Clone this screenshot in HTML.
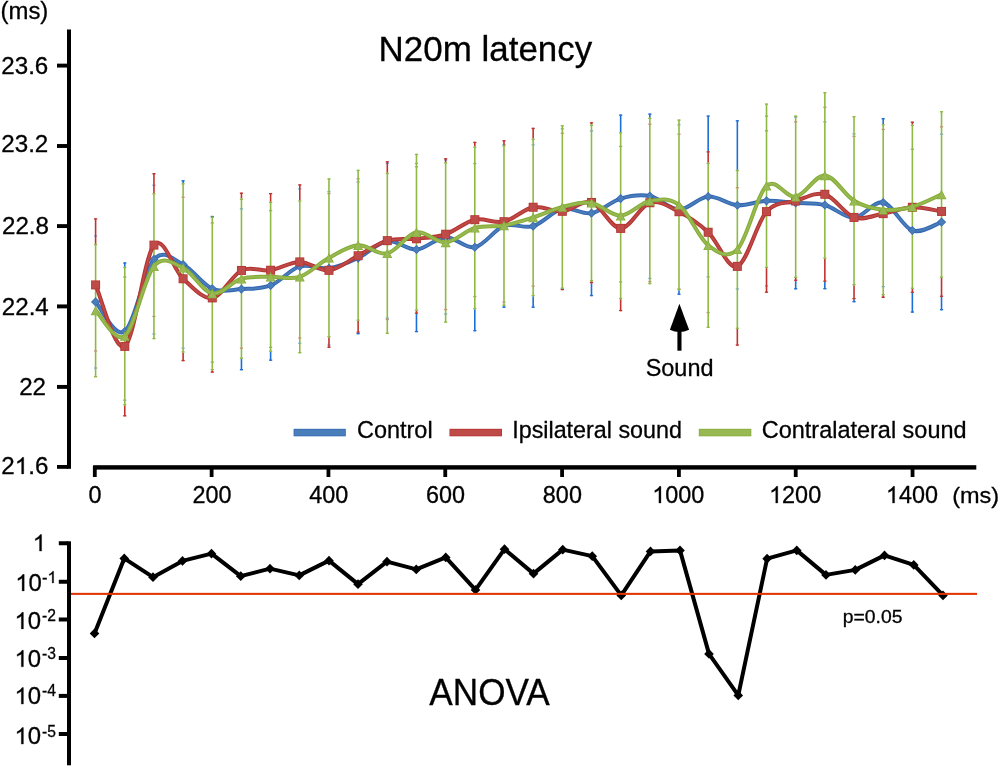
<!DOCTYPE html><html><head><meta charset="utf-8"><style>html,body{margin:0;padding:0;background:#fff}svg{display:block}</style></head><body><svg width="1000" height="768" viewBox="0 0 1000 768">
<rect width="1000" height="768" fill="#fff"/>
<path d="M94.00 235.95H97.20" stroke="#1c6fd4" stroke-width="1.30" fill="none" opacity="0.60"/>
<path d="M94.00 368.05H97.20" stroke="#1c6fd4" stroke-width="1.30" fill="none" opacity="0.60"/>
<path d="M94.00 218.95H97.20" stroke="#c0322f" stroke-width="1.30" fill="none" opacity="1.00"/>
<path d="M94.00 350.95H97.20" stroke="#c0322f" stroke-width="1.30" fill="none" opacity="0.60"/>
<path d="M95.60 218.30V243.90" stroke="#c0322f" stroke-width="1.60" fill="none"/>
<path d="M94.00 244.55H97.20" stroke="#8fb944" stroke-width="1.30" fill="none" opacity="1.00"/>
<path d="M94.00 376.65H97.20" stroke="#8fb944" stroke-width="1.30" fill="none" opacity="1.00"/>
<path d="M95.60 243.90V377.30" stroke="#8fb944" stroke-width="1.60" fill="none"/>
<path d="M123.17 263.05H126.37" stroke="#1c6fd4" stroke-width="1.30" fill="none" opacity="1.00"/>
<path d="M123.17 400.15H126.37" stroke="#1c6fd4" stroke-width="1.30" fill="none" opacity="0.60"/>
<path d="M124.77 262.40V266.80" stroke="#1c6fd4" stroke-width="1.60" fill="none"/>
<path d="M123.17 277.05H126.37" stroke="#c0322f" stroke-width="1.30" fill="none" opacity="0.60"/>
<path d="M123.17 415.75H126.37" stroke="#c0322f" stroke-width="1.30" fill="none" opacity="1.00"/>
<path d="M124.77 405.40V416.40" stroke="#c0322f" stroke-width="1.60" fill="none"/>
<path d="M123.17 267.45H126.37" stroke="#8fb944" stroke-width="1.30" fill="none" opacity="1.00"/>
<path d="M123.17 404.75H126.37" stroke="#8fb944" stroke-width="1.30" fill="none" opacity="1.00"/>
<path d="M124.77 266.80V405.40" stroke="#8fb944" stroke-width="1.60" fill="none"/>
<path d="M152.34 185.25H155.54" stroke="#1c6fd4" stroke-width="1.30" fill="none" opacity="0.60"/>
<path d="M152.34 333.95H155.54" stroke="#1c6fd4" stroke-width="1.30" fill="none" opacity="0.60"/>
<path d="M152.34 173.75H155.54" stroke="#c0322f" stroke-width="1.30" fill="none" opacity="1.00"/>
<path d="M152.34 316.45H155.54" stroke="#c0322f" stroke-width="1.30" fill="none" opacity="0.60"/>
<path d="M153.94 173.10V193.20" stroke="#c0322f" stroke-width="1.60" fill="none"/>
<path d="M152.34 193.85H155.54" stroke="#8fb944" stroke-width="1.30" fill="none" opacity="1.00"/>
<path d="M152.34 338.55H155.54" stroke="#8fb944" stroke-width="1.30" fill="none" opacity="1.00"/>
<path d="M153.94 193.20V339.20" stroke="#8fb944" stroke-width="1.60" fill="none"/>
<path d="M181.51 180.85H184.71" stroke="#1c6fd4" stroke-width="1.30" fill="none" opacity="1.00"/>
<path d="M181.51 348.15H184.71" stroke="#1c6fd4" stroke-width="1.30" fill="none" opacity="0.60"/>
<path d="M183.11 180.20V183.20" stroke="#1c6fd4" stroke-width="1.60" fill="none"/>
<path d="M181.51 197.25H184.71" stroke="#c0322f" stroke-width="1.30" fill="none" opacity="0.60"/>
<path d="M181.51 360.55H184.71" stroke="#c0322f" stroke-width="1.30" fill="none" opacity="1.00"/>
<path d="M183.11 352.60V361.20" stroke="#c0322f" stroke-width="1.60" fill="none"/>
<path d="M181.51 183.85H184.71" stroke="#8fb944" stroke-width="1.30" fill="none" opacity="1.00"/>
<path d="M181.51 351.95H184.71" stroke="#8fb944" stroke-width="1.30" fill="none" opacity="1.00"/>
<path d="M183.11 183.20V352.60" stroke="#8fb944" stroke-width="1.60" fill="none"/>
<path d="M210.68 216.55H213.88" stroke="#1c6fd4" stroke-width="1.30" fill="none" opacity="1.00"/>
<path d="M210.68 362.15H213.88" stroke="#1c6fd4" stroke-width="1.30" fill="none" opacity="0.60"/>
<path d="M212.28 215.90V216.70" stroke="#1c6fd4" stroke-width="1.60" fill="none"/>
<path d="M210.68 222.95H213.88" stroke="#c0322f" stroke-width="1.30" fill="none" opacity="0.60"/>
<path d="M210.68 372.05H213.88" stroke="#c0322f" stroke-width="1.30" fill="none" opacity="1.00"/>
<path d="M212.28 370.30V372.70" stroke="#c0322f" stroke-width="1.60" fill="none"/>
<path d="M210.68 217.35H213.88" stroke="#8fb944" stroke-width="1.30" fill="none" opacity="1.00"/>
<path d="M210.68 369.65H213.88" stroke="#8fb944" stroke-width="1.30" fill="none" opacity="1.00"/>
<path d="M212.28 216.70V370.30" stroke="#8fb944" stroke-width="1.60" fill="none"/>
<path d="M239.85 208.85H243.05" stroke="#1c6fd4" stroke-width="1.30" fill="none" opacity="0.60"/>
<path d="M239.85 369.65H243.05" stroke="#1c6fd4" stroke-width="1.30" fill="none" opacity="1.00"/>
<path d="M241.45 358.80V370.30" stroke="#1c6fd4" stroke-width="1.60" fill="none"/>
<path d="M239.85 193.25H243.05" stroke="#c0322f" stroke-width="1.30" fill="none" opacity="1.00"/>
<path d="M239.85 348.15H243.05" stroke="#c0322f" stroke-width="1.30" fill="none" opacity="0.60"/>
<path d="M241.45 192.60V198.60" stroke="#c0322f" stroke-width="1.60" fill="none"/>
<path d="M239.85 199.25H243.05" stroke="#8fb944" stroke-width="1.30" fill="none" opacity="1.00"/>
<path d="M239.85 358.15H243.05" stroke="#8fb944" stroke-width="1.30" fill="none" opacity="1.00"/>
<path d="M241.45 198.60V358.80" stroke="#8fb944" stroke-width="1.60" fill="none"/>
<path d="M269.02 210.55H272.22" stroke="#1c6fd4" stroke-width="1.30" fill="none" opacity="0.60"/>
<path d="M269.02 360.15H272.22" stroke="#1c6fd4" stroke-width="1.30" fill="none" opacity="1.00"/>
<path d="M270.62 351.80V360.80" stroke="#1c6fd4" stroke-width="1.60" fill="none"/>
<path d="M269.02 193.65H272.22" stroke="#c0322f" stroke-width="1.30" fill="none" opacity="1.00"/>
<path d="M269.02 347.35H272.22" stroke="#c0322f" stroke-width="1.30" fill="none" opacity="0.60"/>
<path d="M270.62 193.00V201.80" stroke="#c0322f" stroke-width="1.60" fill="none"/>
<path d="M269.02 202.45H272.22" stroke="#8fb944" stroke-width="1.30" fill="none" opacity="1.00"/>
<path d="M269.02 351.15H272.22" stroke="#8fb944" stroke-width="1.30" fill="none" opacity="1.00"/>
<path d="M270.62 201.80V351.80" stroke="#8fb944" stroke-width="1.60" fill="none"/>
<path d="M298.19 188.95H301.39" stroke="#1c6fd4" stroke-width="1.30" fill="none" opacity="0.60"/>
<path d="M298.19 343.25H301.39" stroke="#1c6fd4" stroke-width="1.30" fill="none" opacity="0.60"/>
<path d="M298.19 184.95H301.39" stroke="#c0322f" stroke-width="1.30" fill="none" opacity="1.00"/>
<path d="M298.19 338.05H301.39" stroke="#c0322f" stroke-width="1.30" fill="none" opacity="0.60"/>
<path d="M299.79 184.30V200.30" stroke="#c0322f" stroke-width="1.60" fill="none"/>
<path d="M298.19 200.95H301.39" stroke="#8fb944" stroke-width="1.30" fill="none" opacity="1.00"/>
<path d="M298.19 352.65H301.39" stroke="#8fb944" stroke-width="1.30" fill="none" opacity="1.00"/>
<path d="M299.79 200.30V353.30" stroke="#8fb944" stroke-width="1.60" fill="none"/>
<path d="M327.36 191.55H330.56" stroke="#1c6fd4" stroke-width="1.30" fill="none" opacity="0.60"/>
<path d="M327.36 345.05H330.56" stroke="#1c6fd4" stroke-width="1.30" fill="none" opacity="0.60"/>
<path d="M327.36 193.55H330.56" stroke="#c0322f" stroke-width="1.30" fill="none" opacity="0.60"/>
<path d="M327.36 347.25H330.56" stroke="#c0322f" stroke-width="1.30" fill="none" opacity="1.00"/>
<path d="M328.96 337.30V347.90" stroke="#c0322f" stroke-width="1.60" fill="none"/>
<path d="M327.36 178.95H330.56" stroke="#8fb944" stroke-width="1.30" fill="none" opacity="1.00"/>
<path d="M327.36 336.65H330.56" stroke="#8fb944" stroke-width="1.30" fill="none" opacity="1.00"/>
<path d="M328.96 178.30V337.30" stroke="#8fb944" stroke-width="1.60" fill="none"/>
<path d="M356.53 181.95H359.73" stroke="#1c6fd4" stroke-width="1.30" fill="none" opacity="0.60"/>
<path d="M356.53 333.65H359.73" stroke="#1c6fd4" stroke-width="1.30" fill="none" opacity="1.00"/>
<path d="M358.13 332.80V334.30" stroke="#1c6fd4" stroke-width="1.60" fill="none"/>
<path d="M356.53 178.95H359.73" stroke="#c0322f" stroke-width="1.30" fill="none" opacity="0.60"/>
<path d="M356.53 332.15H359.73" stroke="#c0322f" stroke-width="1.30" fill="none" opacity="1.00"/>
<path d="M358.13 320.80V332.80" stroke="#c0322f" stroke-width="1.60" fill="none"/>
<path d="M356.53 170.45H359.73" stroke="#8fb944" stroke-width="1.30" fill="none" opacity="1.00"/>
<path d="M356.53 320.15H359.73" stroke="#8fb944" stroke-width="1.30" fill="none" opacity="1.00"/>
<path d="M358.13 169.80V320.80" stroke="#8fb944" stroke-width="1.60" fill="none"/>
<path d="M385.70 163.45H388.90" stroke="#1c6fd4" stroke-width="1.30" fill="none" opacity="0.60"/>
<path d="M385.70 318.15H388.90" stroke="#1c6fd4" stroke-width="1.30" fill="none" opacity="0.60"/>
<path d="M385.70 161.85H388.90" stroke="#c0322f" stroke-width="1.30" fill="none" opacity="1.00"/>
<path d="M385.70 319.55H388.90" stroke="#c0322f" stroke-width="1.30" fill="none" opacity="0.60"/>
<path d="M387.30 161.20V172.80" stroke="#c0322f" stroke-width="1.60" fill="none"/>
<path d="M385.70 173.45H388.90" stroke="#8fb944" stroke-width="1.30" fill="none" opacity="1.00"/>
<path d="M385.70 333.25H388.90" stroke="#8fb944" stroke-width="1.30" fill="none" opacity="1.00"/>
<path d="M387.30 172.80V333.90" stroke="#8fb944" stroke-width="1.60" fill="none"/>
<path d="M414.87 166.85H418.07" stroke="#1c6fd4" stroke-width="1.30" fill="none" opacity="0.60"/>
<path d="M414.87 331.55H418.07" stroke="#1c6fd4" stroke-width="1.30" fill="none" opacity="1.00"/>
<path d="M416.47 313.80V332.20" stroke="#1c6fd4" stroke-width="1.60" fill="none"/>
<path d="M414.87 163.45H418.07" stroke="#c0322f" stroke-width="1.30" fill="none" opacity="0.60"/>
<path d="M414.87 313.15H418.07" stroke="#c0322f" stroke-width="1.30" fill="none" opacity="1.00"/>
<path d="M416.47 310.80V313.80" stroke="#c0322f" stroke-width="1.60" fill="none"/>
<path d="M414.87 154.45H418.07" stroke="#8fb944" stroke-width="1.30" fill="none" opacity="1.00"/>
<path d="M414.87 310.15H418.07" stroke="#8fb944" stroke-width="1.30" fill="none" opacity="1.00"/>
<path d="M416.47 153.80V310.80" stroke="#8fb944" stroke-width="1.60" fill="none"/>
<path d="M444.04 160.05H447.24" stroke="#1c6fd4" stroke-width="1.30" fill="none" opacity="0.60"/>
<path d="M444.04 313.95H447.24" stroke="#1c6fd4" stroke-width="1.30" fill="none" opacity="0.60"/>
<path d="M444.04 158.85H447.24" stroke="#c0322f" stroke-width="1.30" fill="none" opacity="1.00"/>
<path d="M444.04 309.55H447.24" stroke="#c0322f" stroke-width="1.30" fill="none" opacity="0.60"/>
<path d="M445.64 158.20V162.20" stroke="#c0322f" stroke-width="1.60" fill="none"/>
<path d="M444.04 162.85H447.24" stroke="#8fb944" stroke-width="1.30" fill="none" opacity="1.00"/>
<path d="M444.04 322.05H447.24" stroke="#8fb944" stroke-width="1.30" fill="none" opacity="1.00"/>
<path d="M445.64 162.20V322.70" stroke="#8fb944" stroke-width="1.60" fill="none"/>
<path d="M473.21 163.55H476.41" stroke="#1c6fd4" stroke-width="1.30" fill="none" opacity="0.60"/>
<path d="M473.21 330.65H476.41" stroke="#1c6fd4" stroke-width="1.30" fill="none" opacity="1.00"/>
<path d="M474.81 309.20V331.30" stroke="#1c6fd4" stroke-width="1.60" fill="none"/>
<path d="M473.21 142.45H476.41" stroke="#c0322f" stroke-width="1.30" fill="none" opacity="1.00"/>
<path d="M473.21 296.55H476.41" stroke="#c0322f" stroke-width="1.30" fill="none" opacity="0.60"/>
<path d="M474.81 141.80V146.60" stroke="#c0322f" stroke-width="1.60" fill="none"/>
<path d="M473.21 147.25H476.41" stroke="#8fb944" stroke-width="1.30" fill="none" opacity="1.00"/>
<path d="M473.21 308.55H476.41" stroke="#8fb944" stroke-width="1.30" fill="none" opacity="1.00"/>
<path d="M474.81 146.60V309.20" stroke="#8fb944" stroke-width="1.60" fill="none"/>
<path d="M502.38 144.85H505.58" stroke="#1c6fd4" stroke-width="1.30" fill="none" opacity="0.60"/>
<path d="M502.38 307.15H505.58" stroke="#1c6fd4" stroke-width="1.30" fill="none" opacity="1.00"/>
<path d="M503.98 305.80V307.80" stroke="#1c6fd4" stroke-width="1.60" fill="none"/>
<path d="M502.38 140.85H505.58" stroke="#c0322f" stroke-width="1.30" fill="none" opacity="1.00"/>
<path d="M502.38 302.15H505.58" stroke="#c0322f" stroke-width="1.30" fill="none" opacity="0.60"/>
<path d="M503.98 140.20V145.20" stroke="#c0322f" stroke-width="1.60" fill="none"/>
<path d="M502.38 145.85H505.58" stroke="#8fb944" stroke-width="1.30" fill="none" opacity="1.00"/>
<path d="M502.38 305.15H505.58" stroke="#8fb944" stroke-width="1.30" fill="none" opacity="1.00"/>
<path d="M503.98 145.20V305.80" stroke="#8fb944" stroke-width="1.60" fill="none"/>
<path d="M531.55 144.85H534.75" stroke="#1c6fd4" stroke-width="1.30" fill="none" opacity="0.60"/>
<path d="M531.55 307.15H534.75" stroke="#1c6fd4" stroke-width="1.30" fill="none" opacity="1.00"/>
<path d="M533.15 296.20V307.80" stroke="#1c6fd4" stroke-width="1.60" fill="none"/>
<path d="M531.55 128.45H534.75" stroke="#c0322f" stroke-width="1.30" fill="none" opacity="1.00"/>
<path d="M531.55 286.15H534.75" stroke="#c0322f" stroke-width="1.30" fill="none" opacity="0.60"/>
<path d="M533.15 127.80V138.80" stroke="#c0322f" stroke-width="1.60" fill="none"/>
<path d="M531.55 139.45H534.75" stroke="#8fb944" stroke-width="1.30" fill="none" opacity="1.00"/>
<path d="M531.55 295.55H534.75" stroke="#8fb944" stroke-width="1.30" fill="none" opacity="1.00"/>
<path d="M533.15 138.80V296.20" stroke="#8fb944" stroke-width="1.60" fill="none"/>
<path d="M560.72 128.85H563.92" stroke="#1c6fd4" stroke-width="1.30" fill="none" opacity="0.60"/>
<path d="M560.72 288.85H563.92" stroke="#1c6fd4" stroke-width="1.30" fill="none" opacity="0.60"/>
<path d="M560.72 133.25H563.92" stroke="#c0322f" stroke-width="1.30" fill="none" opacity="0.60"/>
<path d="M560.72 289.55H563.92" stroke="#c0322f" stroke-width="1.30" fill="none" opacity="1.00"/>
<path d="M562.32 288.80V290.20" stroke="#c0322f" stroke-width="1.60" fill="none"/>
<path d="M560.72 125.85H563.92" stroke="#8fb944" stroke-width="1.30" fill="none" opacity="1.00"/>
<path d="M560.72 288.15H563.92" stroke="#8fb944" stroke-width="1.30" fill="none" opacity="1.00"/>
<path d="M562.32 125.20V288.80" stroke="#8fb944" stroke-width="1.60" fill="none"/>
<path d="M589.89 130.85H593.09" stroke="#1c6fd4" stroke-width="1.30" fill="none" opacity="0.60"/>
<path d="M589.89 295.55H593.09" stroke="#1c6fd4" stroke-width="1.30" fill="none" opacity="1.00"/>
<path d="M591.49 283.20V296.20" stroke="#1c6fd4" stroke-width="1.60" fill="none"/>
<path d="M589.89 122.85H593.09" stroke="#c0322f" stroke-width="1.30" fill="none" opacity="1.00"/>
<path d="M589.89 282.55H593.09" stroke="#c0322f" stroke-width="1.30" fill="none" opacity="1.00"/>
<path d="M591.49 122.20V124.60" stroke="#c0322f" stroke-width="1.60" fill="none"/>
<path d="M591.49 281.20V283.20" stroke="#c0322f" stroke-width="1.60" fill="none"/>
<path d="M589.89 125.25H593.09" stroke="#8fb944" stroke-width="1.30" fill="none" opacity="1.00"/>
<path d="M589.89 280.55H593.09" stroke="#8fb944" stroke-width="1.30" fill="none" opacity="1.00"/>
<path d="M591.49 124.60V281.20" stroke="#8fb944" stroke-width="1.60" fill="none"/>
<path d="M619.06 115.15H622.26" stroke="#1c6fd4" stroke-width="1.30" fill="none" opacity="1.00"/>
<path d="M619.06 281.95H622.26" stroke="#1c6fd4" stroke-width="1.30" fill="none" opacity="0.60"/>
<path d="M620.66 114.50V132.20" stroke="#1c6fd4" stroke-width="1.60" fill="none"/>
<path d="M619.06 146.45H622.26" stroke="#c0322f" stroke-width="1.30" fill="none" opacity="0.60"/>
<path d="M619.06 310.55H622.26" stroke="#c0322f" stroke-width="1.30" fill="none" opacity="1.00"/>
<path d="M620.66 299.20V311.20" stroke="#c0322f" stroke-width="1.60" fill="none"/>
<path d="M619.06 132.85H622.26" stroke="#8fb944" stroke-width="1.30" fill="none" opacity="1.00"/>
<path d="M619.06 298.55H622.26" stroke="#8fb944" stroke-width="1.30" fill="none" opacity="1.00"/>
<path d="M620.66 132.20V299.20" stroke="#8fb944" stroke-width="1.60" fill="none"/>
<path d="M648.23 114.15H651.43" stroke="#1c6fd4" stroke-width="1.30" fill="none" opacity="1.00"/>
<path d="M648.23 278.45H651.43" stroke="#1c6fd4" stroke-width="1.30" fill="none" opacity="0.60"/>
<path d="M649.83 113.50V117.70" stroke="#1c6fd4" stroke-width="1.60" fill="none"/>
<path d="M648.23 124.25H651.43" stroke="#c0322f" stroke-width="1.30" fill="none" opacity="0.60"/>
<path d="M648.23 281.55H651.43" stroke="#c0322f" stroke-width="1.30" fill="none" opacity="0.60"/>
<path d="M648.23 118.35H651.43" stroke="#8fb944" stroke-width="1.30" fill="none" opacity="1.00"/>
<path d="M648.23 283.55H651.43" stroke="#8fb944" stroke-width="1.30" fill="none" opacity="1.00"/>
<path d="M649.83 117.70V284.20" stroke="#8fb944" stroke-width="1.60" fill="none"/>
<path d="M677.40 124.85H680.60" stroke="#1c6fd4" stroke-width="1.30" fill="none" opacity="0.60"/>
<path d="M677.40 294.15H680.60" stroke="#1c6fd4" stroke-width="1.30" fill="none" opacity="1.00"/>
<path d="M679.00 290.20V294.80" stroke="#1c6fd4" stroke-width="1.60" fill="none"/>
<path d="M677.40 134.25H680.60" stroke="#c0322f" stroke-width="1.30" fill="none" opacity="0.60"/>
<path d="M677.40 288.95H680.60" stroke="#c0322f" stroke-width="1.30" fill="none" opacity="0.60"/>
<path d="M677.40 120.15H680.60" stroke="#8fb944" stroke-width="1.30" fill="none" opacity="1.00"/>
<path d="M677.40 289.55H680.60" stroke="#8fb944" stroke-width="1.30" fill="none" opacity="1.00"/>
<path d="M679.00 119.50V290.20" stroke="#8fb944" stroke-width="1.60" fill="none"/>
<path d="M706.57 116.15H709.77" stroke="#1c6fd4" stroke-width="1.30" fill="none" opacity="1.00"/>
<path d="M706.57 276.85H709.77" stroke="#1c6fd4" stroke-width="1.30" fill="none" opacity="0.60"/>
<path d="M708.17 115.50V151.20" stroke="#1c6fd4" stroke-width="1.60" fill="none"/>
<path d="M706.57 151.85H709.77" stroke="#c0322f" stroke-width="1.30" fill="none" opacity="1.00"/>
<path d="M706.57 312.55H709.77" stroke="#c0322f" stroke-width="1.30" fill="none" opacity="0.60"/>
<path d="M708.17 151.20V162.70" stroke="#c0322f" stroke-width="1.60" fill="none"/>
<path d="M706.57 163.35H709.77" stroke="#8fb944" stroke-width="1.30" fill="none" opacity="1.00"/>
<path d="M706.57 327.25H709.77" stroke="#8fb944" stroke-width="1.30" fill="none" opacity="1.00"/>
<path d="M708.17 162.70V327.90" stroke="#8fb944" stroke-width="1.60" fill="none"/>
<path d="M735.74 120.85H738.94" stroke="#1c6fd4" stroke-width="1.30" fill="none" opacity="1.00"/>
<path d="M735.74 288.95H738.94" stroke="#1c6fd4" stroke-width="1.30" fill="none" opacity="0.60"/>
<path d="M737.34 120.20V169.90" stroke="#1c6fd4" stroke-width="1.60" fill="none"/>
<path d="M735.74 187.65H738.94" stroke="#c0322f" stroke-width="1.30" fill="none" opacity="0.60"/>
<path d="M735.74 345.05H738.94" stroke="#c0322f" stroke-width="1.30" fill="none" opacity="1.00"/>
<path d="M737.34 328.90V345.70" stroke="#c0322f" stroke-width="1.60" fill="none"/>
<path d="M735.74 170.55H738.94" stroke="#8fb944" stroke-width="1.30" fill="none" opacity="1.00"/>
<path d="M735.74 328.25H738.94" stroke="#8fb944" stroke-width="1.30" fill="none" opacity="1.00"/>
<path d="M737.34 169.90V328.90" stroke="#8fb944" stroke-width="1.60" fill="none"/>
<path d="M764.91 116.15H768.11" stroke="#1c6fd4" stroke-width="1.30" fill="none" opacity="0.60"/>
<path d="M764.91 285.95H768.11" stroke="#1c6fd4" stroke-width="1.30" fill="none" opacity="0.60"/>
<path d="M764.91 130.85H768.11" stroke="#c0322f" stroke-width="1.30" fill="none" opacity="0.60"/>
<path d="M764.91 292.15H768.11" stroke="#c0322f" stroke-width="1.30" fill="none" opacity="1.00"/>
<path d="M766.51 268.10V292.80" stroke="#c0322f" stroke-width="1.60" fill="none"/>
<path d="M764.91 104.15H768.11" stroke="#8fb944" stroke-width="1.30" fill="none" opacity="1.00"/>
<path d="M764.91 267.45H768.11" stroke="#8fb944" stroke-width="1.30" fill="none" opacity="1.00"/>
<path d="M766.51 103.50V268.10" stroke="#8fb944" stroke-width="1.60" fill="none"/>
<path d="M794.08 117.15H797.28" stroke="#1c6fd4" stroke-width="1.30" fill="none" opacity="0.60"/>
<path d="M794.08 288.75H797.28" stroke="#1c6fd4" stroke-width="1.30" fill="none" opacity="1.00"/>
<path d="M795.68 280.90V289.40" stroke="#1c6fd4" stroke-width="1.60" fill="none"/>
<path d="M794.08 121.85H797.28" stroke="#c0322f" stroke-width="1.30" fill="none" opacity="0.60"/>
<path d="M794.08 280.25H797.28" stroke="#c0322f" stroke-width="1.30" fill="none" opacity="1.00"/>
<path d="M795.68 278.00V280.90" stroke="#c0322f" stroke-width="1.60" fill="none"/>
<path d="M794.08 116.15H797.28" stroke="#8fb944" stroke-width="1.30" fill="none" opacity="1.00"/>
<path d="M794.08 277.35H797.28" stroke="#8fb944" stroke-width="1.30" fill="none" opacity="1.00"/>
<path d="M795.68 115.50V278.00" stroke="#8fb944" stroke-width="1.60" fill="none"/>
<path d="M823.25 121.85H826.45" stroke="#1c6fd4" stroke-width="1.30" fill="none" opacity="0.60"/>
<path d="M823.25 288.65H826.45" stroke="#1c6fd4" stroke-width="1.30" fill="none" opacity="1.00"/>
<path d="M824.85 281.80V289.30" stroke="#1c6fd4" stroke-width="1.60" fill="none"/>
<path d="M823.25 107.35H826.45" stroke="#c0322f" stroke-width="1.30" fill="none" opacity="0.60"/>
<path d="M823.25 281.15H826.45" stroke="#c0322f" stroke-width="1.30" fill="none" opacity="1.00"/>
<path d="M824.85 258.80V281.80" stroke="#c0322f" stroke-width="1.60" fill="none"/>
<path d="M823.25 92.75H826.45" stroke="#8fb944" stroke-width="1.30" fill="none" opacity="1.00"/>
<path d="M823.25 258.15H826.45" stroke="#8fb944" stroke-width="1.30" fill="none" opacity="1.00"/>
<path d="M824.85 92.10V258.80" stroke="#8fb944" stroke-width="1.60" fill="none"/>
<path d="M852.42 133.85H855.62" stroke="#1c6fd4" stroke-width="1.30" fill="none" opacity="0.60"/>
<path d="M852.42 301.65H855.62" stroke="#1c6fd4" stroke-width="1.30" fill="none" opacity="1.00"/>
<path d="M854.02 299.30V302.30" stroke="#1c6fd4" stroke-width="1.60" fill="none"/>
<path d="M852.42 136.45H855.62" stroke="#c0322f" stroke-width="1.30" fill="none" opacity="0.60"/>
<path d="M852.42 298.65H855.62" stroke="#c0322f" stroke-width="1.30" fill="none" opacity="1.00"/>
<path d="M854.02 285.30V299.30" stroke="#c0322f" stroke-width="1.60" fill="none"/>
<path d="M852.42 116.75H855.62" stroke="#8fb944" stroke-width="1.30" fill="none" opacity="1.00"/>
<path d="M852.42 284.65H855.62" stroke="#8fb944" stroke-width="1.30" fill="none" opacity="1.00"/>
<path d="M854.02 116.10V285.30" stroke="#8fb944" stroke-width="1.60" fill="none"/>
<path d="M881.59 118.75H884.79" stroke="#1c6fd4" stroke-width="1.30" fill="none" opacity="1.00"/>
<path d="M881.59 286.65H884.79" stroke="#1c6fd4" stroke-width="1.30" fill="none" opacity="0.60"/>
<path d="M883.19 118.10V124.20" stroke="#1c6fd4" stroke-width="1.60" fill="none"/>
<path d="M881.59 129.45H884.79" stroke="#c0322f" stroke-width="1.30" fill="none" opacity="0.60"/>
<path d="M881.59 297.25H884.79" stroke="#c0322f" stroke-width="1.30" fill="none" opacity="1.00"/>
<path d="M883.19 295.30V297.90" stroke="#c0322f" stroke-width="1.60" fill="none"/>
<path d="M881.59 124.85H884.79" stroke="#8fb944" stroke-width="1.30" fill="none" opacity="1.00"/>
<path d="M881.59 294.65H884.79" stroke="#8fb944" stroke-width="1.30" fill="none" opacity="1.00"/>
<path d="M883.19 124.20V295.30" stroke="#8fb944" stroke-width="1.60" fill="none"/>
<path d="M910.76 149.25H913.96" stroke="#1c6fd4" stroke-width="1.30" fill="none" opacity="0.60"/>
<path d="M910.76 312.05H913.96" stroke="#1c6fd4" stroke-width="1.30" fill="none" opacity="1.00"/>
<path d="M912.36 292.90V312.70" stroke="#1c6fd4" stroke-width="1.60" fill="none"/>
<path d="M910.76 122.25H913.96" stroke="#c0322f" stroke-width="1.30" fill="none" opacity="1.00"/>
<path d="M910.76 292.25H913.96" stroke="#c0322f" stroke-width="1.30" fill="none" opacity="1.00"/>
<path d="M912.36 121.60V124.60" stroke="#c0322f" stroke-width="1.60" fill="none"/>
<path d="M912.36 288.90V292.90" stroke="#c0322f" stroke-width="1.60" fill="none"/>
<path d="M910.76 125.25H913.96" stroke="#8fb944" stroke-width="1.30" fill="none" opacity="1.00"/>
<path d="M910.76 288.25H913.96" stroke="#8fb944" stroke-width="1.30" fill="none" opacity="1.00"/>
<path d="M912.36 124.60V288.90" stroke="#8fb944" stroke-width="1.60" fill="none"/>
<path d="M939.93 134.25H943.13" stroke="#1c6fd4" stroke-width="1.30" fill="none" opacity="0.60"/>
<path d="M939.93 309.65H943.13" stroke="#1c6fd4" stroke-width="1.30" fill="none" opacity="1.00"/>
<path d="M941.53 296.90V310.30" stroke="#1c6fd4" stroke-width="1.60" fill="none"/>
<path d="M939.93 126.85H943.13" stroke="#c0322f" stroke-width="1.30" fill="none" opacity="0.60"/>
<path d="M939.93 296.25H943.13" stroke="#c0322f" stroke-width="1.30" fill="none" opacity="1.00"/>
<path d="M941.53 277.80V296.90" stroke="#c0322f" stroke-width="1.60" fill="none"/>
<path d="M939.93 111.75H943.13" stroke="#8fb944" stroke-width="1.30" fill="none" opacity="1.00"/>
<path d="M939.93 277.15H943.13" stroke="#8fb944" stroke-width="1.30" fill="none" opacity="1.00"/>
<path d="M941.53 111.10V277.80" stroke="#8fb944" stroke-width="1.60" fill="none"/>
<path d="M95.60 301.95 C100.46 306.88 115.05 338.59 124.77 331.50 C134.49 324.41 144.22 270.56 153.94 259.40 C163.66 248.24 173.39 259.65 183.11 264.55 C192.83 269.45 202.56 284.74 212.28 288.83 C222.00 292.91 231.73 289.63 241.45 289.07 C251.17 288.52 260.90 289.25 270.62 285.48 C280.34 281.70 290.07 269.26 299.79 266.40 C309.51 263.54 319.24 269.69 328.96 268.30 C338.68 266.91 348.41 262.60 358.13 258.05 C367.85 253.50 377.58 242.43 387.30 241.00 C397.02 239.57 406.75 250.14 416.47 249.50 C426.19 248.86 435.92 237.53 445.64 237.15 C455.36 236.78 465.09 249.12 474.81 247.25 C484.53 245.38 494.26 229.47 503.98 225.95 C513.70 222.43 523.43 229.00 533.15 226.15 C542.87 223.30 552.60 211.01 562.32 208.85 C572.04 206.69 581.77 214.91 591.49 213.20 C601.21 211.49 610.94 201.43 620.66 198.57 C630.38 195.72 640.11 194.23 649.83 196.05 C659.55 197.87 669.28 209.42 679.00 209.50 C688.72 209.58 698.45 197.26 708.17 196.55 C717.89 195.84 727.62 204.54 737.34 205.25 C747.06 205.96 756.79 201.23 766.51 200.82 C776.23 200.42 785.96 202.13 795.68 202.82 C805.40 203.52 815.13 202.49 824.85 204.97 C834.57 207.46 844.30 218.16 854.02 217.75 C863.74 217.34 873.47 200.37 883.19 202.50 C892.91 204.63 902.64 227.25 912.36 230.52 C922.08 233.80 936.67 223.53 941.53 222.12" fill="none" stroke="#3468b3" stroke-width="4.00" stroke-linecap="round" stroke-linejoin="round"/>
<path d="M95.60 301.95 C100.46 306.88 115.05 338.59 124.77 331.50 C134.49 324.41 144.22 270.56 153.94 259.40 C163.66 248.24 173.39 259.65 183.11 264.55 C192.83 269.45 202.56 284.74 212.28 288.83 C222.00 292.91 231.73 289.63 241.45 289.07 C251.17 288.52 260.90 289.25 270.62 285.48 C280.34 281.70 290.07 269.26 299.79 266.40 C309.51 263.54 319.24 269.69 328.96 268.30 C338.68 266.91 348.41 262.60 358.13 258.05 C367.85 253.50 377.58 242.43 387.30 241.00 C397.02 239.57 406.75 250.14 416.47 249.50 C426.19 248.86 435.92 237.53 445.64 237.15 C455.36 236.78 465.09 249.12 474.81 247.25 C484.53 245.38 494.26 229.47 503.98 225.95 C513.70 222.43 523.43 229.00 533.15 226.15 C542.87 223.30 552.60 211.01 562.32 208.85 C572.04 206.69 581.77 214.91 591.49 213.20 C601.21 211.49 610.94 201.43 620.66 198.57 C630.38 195.72 640.11 194.23 649.83 196.05 C659.55 197.87 669.28 209.42 679.00 209.50 C688.72 209.58 698.45 197.26 708.17 196.55 C717.89 195.84 727.62 204.54 737.34 205.25 C747.06 205.96 756.79 201.23 766.51 200.82 C776.23 200.42 785.96 202.13 795.68 202.82 C805.40 203.52 815.13 202.49 824.85 204.97 C834.57 207.46 844.30 218.16 854.02 217.75 C863.74 217.34 873.47 200.37 883.19 202.50 C892.91 204.63 902.64 227.25 912.36 230.52 C922.08 233.80 936.67 223.53 941.53 222.12" fill="none" stroke="#4a7ebb" stroke-width="1.80" stroke-linecap="round" stroke-linejoin="round"/>
<path d="M95.60 297.35 L100.20 301.95 L95.60 306.55 L91.00 301.95Z" fill="#3468b3"/>
<path d="M95.60 298.40 L99.15 301.95 L95.60 305.50 L92.05 301.95Z" fill="#4a7ebb"/>
<path d="M124.77 326.90 L129.37 331.50 L124.77 336.10 L120.17 331.50Z" fill="#3468b3"/>
<path d="M124.77 327.95 L128.32 331.50 L124.77 335.05 L121.22 331.50Z" fill="#4a7ebb"/>
<path d="M153.94 254.80 L158.54 259.40 L153.94 264.00 L149.34 259.40Z" fill="#3468b3"/>
<path d="M153.94 255.85 L157.49 259.40 L153.94 262.95 L150.39 259.40Z" fill="#4a7ebb"/>
<path d="M183.11 259.95 L187.71 264.55 L183.11 269.15 L178.51 264.55Z" fill="#3468b3"/>
<path d="M183.11 261.00 L186.66 264.55 L183.11 268.10 L179.56 264.55Z" fill="#4a7ebb"/>
<path d="M212.28 284.23 L216.88 288.83 L212.28 293.43 L207.68 288.83Z" fill="#3468b3"/>
<path d="M212.28 285.28 L215.83 288.83 L212.28 292.38 L208.73 288.83Z" fill="#4a7ebb"/>
<path d="M241.45 284.47 L246.05 289.07 L241.45 293.68 L236.85 289.07Z" fill="#3468b3"/>
<path d="M241.45 285.52 L245.00 289.07 L241.45 292.62 L237.90 289.07Z" fill="#4a7ebb"/>
<path d="M270.62 280.88 L275.22 285.48 L270.62 290.08 L266.02 285.48Z" fill="#3468b3"/>
<path d="M270.62 281.93 L274.17 285.48 L270.62 289.03 L267.07 285.48Z" fill="#4a7ebb"/>
<path d="M299.79 261.80 L304.39 266.40 L299.79 271.00 L295.19 266.40Z" fill="#3468b3"/>
<path d="M299.79 262.85 L303.34 266.40 L299.79 269.95 L296.24 266.40Z" fill="#4a7ebb"/>
<path d="M328.96 263.70 L333.56 268.30 L328.96 272.90 L324.36 268.30Z" fill="#3468b3"/>
<path d="M328.96 264.75 L332.51 268.30 L328.96 271.85 L325.41 268.30Z" fill="#4a7ebb"/>
<path d="M358.13 253.45 L362.73 258.05 L358.13 262.65 L353.53 258.05Z" fill="#3468b3"/>
<path d="M358.13 254.50 L361.68 258.05 L358.13 261.60 L354.58 258.05Z" fill="#4a7ebb"/>
<path d="M387.30 236.40 L391.90 241.00 L387.30 245.60 L382.70 241.00Z" fill="#3468b3"/>
<path d="M387.30 237.45 L390.85 241.00 L387.30 244.55 L383.75 241.00Z" fill="#4a7ebb"/>
<path d="M416.47 244.90 L421.07 249.50 L416.47 254.10 L411.87 249.50Z" fill="#3468b3"/>
<path d="M416.47 245.95 L420.02 249.50 L416.47 253.05 L412.92 249.50Z" fill="#4a7ebb"/>
<path d="M445.64 232.55 L450.24 237.15 L445.64 241.75 L441.04 237.15Z" fill="#3468b3"/>
<path d="M445.64 233.60 L449.19 237.15 L445.64 240.70 L442.09 237.15Z" fill="#4a7ebb"/>
<path d="M474.81 242.65 L479.41 247.25 L474.81 251.85 L470.21 247.25Z" fill="#3468b3"/>
<path d="M474.81 243.70 L478.36 247.25 L474.81 250.80 L471.26 247.25Z" fill="#4a7ebb"/>
<path d="M503.98 221.35 L508.58 225.95 L503.98 230.55 L499.38 225.95Z" fill="#3468b3"/>
<path d="M503.98 222.40 L507.53 225.95 L503.98 229.50 L500.43 225.95Z" fill="#4a7ebb"/>
<path d="M533.15 221.55 L537.75 226.15 L533.15 230.75 L528.55 226.15Z" fill="#3468b3"/>
<path d="M533.15 222.60 L536.70 226.15 L533.15 229.70 L529.60 226.15Z" fill="#4a7ebb"/>
<path d="M562.32 204.25 L566.92 208.85 L562.32 213.45 L557.72 208.85Z" fill="#3468b3"/>
<path d="M562.32 205.30 L565.87 208.85 L562.32 212.40 L558.77 208.85Z" fill="#4a7ebb"/>
<path d="M591.49 208.60 L596.09 213.20 L591.49 217.80 L586.89 213.20Z" fill="#3468b3"/>
<path d="M591.49 209.65 L595.04 213.20 L591.49 216.75 L587.94 213.20Z" fill="#4a7ebb"/>
<path d="M620.66 193.97 L625.26 198.57 L620.66 203.17 L616.06 198.57Z" fill="#3468b3"/>
<path d="M620.66 195.02 L624.21 198.57 L620.66 202.12 L617.11 198.57Z" fill="#4a7ebb"/>
<path d="M649.83 191.45 L654.43 196.05 L649.83 200.65 L645.23 196.05Z" fill="#3468b3"/>
<path d="M649.83 192.50 L653.38 196.05 L649.83 199.60 L646.28 196.05Z" fill="#4a7ebb"/>
<path d="M679.00 204.90 L683.60 209.50 L679.00 214.10 L674.40 209.50Z" fill="#3468b3"/>
<path d="M679.00 205.95 L682.55 209.50 L679.00 213.05 L675.45 209.50Z" fill="#4a7ebb"/>
<path d="M708.17 191.95 L712.77 196.55 L708.17 201.15 L703.57 196.55Z" fill="#3468b3"/>
<path d="M708.17 193.00 L711.72 196.55 L708.17 200.10 L704.62 196.55Z" fill="#4a7ebb"/>
<path d="M737.34 200.65 L741.94 205.25 L737.34 209.85 L732.74 205.25Z" fill="#3468b3"/>
<path d="M737.34 201.70 L740.89 205.25 L737.34 208.80 L733.79 205.25Z" fill="#4a7ebb"/>
<path d="M766.51 196.22 L771.11 200.82 L766.51 205.42 L761.91 200.82Z" fill="#3468b3"/>
<path d="M766.51 197.27 L770.06 200.82 L766.51 204.38 L762.96 200.82Z" fill="#4a7ebb"/>
<path d="M795.68 198.22 L800.28 202.82 L795.68 207.42 L791.08 202.82Z" fill="#3468b3"/>
<path d="M795.68 199.27 L799.23 202.82 L795.68 206.38 L792.13 202.82Z" fill="#4a7ebb"/>
<path d="M824.85 200.38 L829.45 204.97 L824.85 209.57 L820.25 204.97Z" fill="#3468b3"/>
<path d="M824.85 201.42 L828.40 204.97 L824.85 208.53 L821.30 204.97Z" fill="#4a7ebb"/>
<path d="M854.02 213.15 L858.62 217.75 L854.02 222.35 L849.42 217.75Z" fill="#3468b3"/>
<path d="M854.02 214.20 L857.57 217.75 L854.02 221.30 L850.47 217.75Z" fill="#4a7ebb"/>
<path d="M883.19 197.90 L887.79 202.50 L883.19 207.10 L878.59 202.50Z" fill="#3468b3"/>
<path d="M883.19 198.95 L886.74 202.50 L883.19 206.05 L879.64 202.50Z" fill="#4a7ebb"/>
<path d="M912.36 225.92 L916.96 230.52 L912.36 235.12 L907.76 230.52Z" fill="#3468b3"/>
<path d="M912.36 226.97 L915.91 230.52 L912.36 234.07 L908.81 230.52Z" fill="#4a7ebb"/>
<path d="M941.53 217.53 L946.13 222.12 L941.53 226.72 L936.93 222.12Z" fill="#3468b3"/>
<path d="M941.53 218.57 L945.08 222.12 L941.53 225.68 L937.98 222.12Z" fill="#4a7ebb"/>
<path d="M95.60 284.93 C100.46 295.17 115.05 353.04 124.77 346.40 C134.49 339.76 144.22 256.38 153.94 245.10 C163.66 233.83 173.39 269.95 183.11 278.75 C192.83 287.55 202.56 299.28 212.28 297.90 C222.00 296.52 231.73 275.06 241.45 270.45 C251.17 265.84 260.90 271.68 270.62 270.25 C280.34 268.82 290.07 261.88 299.79 261.90 C309.51 261.92 319.24 271.38 328.96 270.35 C338.68 269.32 348.41 260.68 358.13 255.73 C367.85 250.78 377.58 243.48 387.30 240.65 C397.02 237.82 406.75 239.82 416.47 238.75 C426.19 237.68 435.92 237.43 445.64 234.25 C455.36 231.07 465.09 221.79 474.81 219.70 C484.53 217.61 494.26 223.77 503.98 221.70 C513.70 219.62 523.43 208.98 533.15 207.25 C542.87 205.52 552.60 212.10 562.32 211.30 C572.04 210.50 581.77 199.60 591.49 202.45 C601.21 205.30 610.94 228.35 620.66 228.40 C630.38 228.45 640.11 205.53 649.83 202.75 C659.55 199.97 669.28 206.78 679.00 211.70 C688.72 216.62 698.45 223.14 708.17 232.25 C717.89 241.36 727.62 269.81 737.34 266.38 C747.06 262.94 756.79 222.54 766.51 211.65 C776.23 200.76 785.96 203.92 795.68 201.02 C805.40 198.13 815.13 191.54 824.85 194.28 C834.57 197.01 844.30 214.20 854.02 217.43 C863.74 220.65 873.47 215.32 883.19 213.62 C892.91 211.93 902.64 207.64 912.36 207.28 C922.08 206.91 936.67 210.73 941.53 211.43" fill="none" stroke="#b53432" stroke-width="4.00" stroke-linecap="round" stroke-linejoin="round"/>
<path d="M95.60 284.93 C100.46 295.17 115.05 353.04 124.77 346.40 C134.49 339.76 144.22 256.38 153.94 245.10 C163.66 233.83 173.39 269.95 183.11 278.75 C192.83 287.55 202.56 299.28 212.28 297.90 C222.00 296.52 231.73 275.06 241.45 270.45 C251.17 265.84 260.90 271.68 270.62 270.25 C280.34 268.82 290.07 261.88 299.79 261.90 C309.51 261.92 319.24 271.38 328.96 270.35 C338.68 269.32 348.41 260.68 358.13 255.73 C367.85 250.78 377.58 243.48 387.30 240.65 C397.02 237.82 406.75 239.82 416.47 238.75 C426.19 237.68 435.92 237.43 445.64 234.25 C455.36 231.07 465.09 221.79 474.81 219.70 C484.53 217.61 494.26 223.77 503.98 221.70 C513.70 219.62 523.43 208.98 533.15 207.25 C542.87 205.52 552.60 212.10 562.32 211.30 C572.04 210.50 581.77 199.60 591.49 202.45 C601.21 205.30 610.94 228.35 620.66 228.40 C630.38 228.45 640.11 205.53 649.83 202.75 C659.55 199.97 669.28 206.78 679.00 211.70 C688.72 216.62 698.45 223.14 708.17 232.25 C717.89 241.36 727.62 269.81 737.34 266.38 C747.06 262.94 756.79 222.54 766.51 211.65 C776.23 200.76 785.96 203.92 795.68 201.02 C805.40 198.13 815.13 191.54 824.85 194.28 C834.57 197.01 844.30 214.20 854.02 217.43 C863.74 220.65 873.47 215.32 883.19 213.62 C892.91 211.93 902.64 207.64 912.36 207.28 C922.08 206.91 936.67 210.73 941.53 211.43" fill="none" stroke="#be4b48" stroke-width="1.80" stroke-linecap="round" stroke-linejoin="round"/>
<rect x="91.10" y="280.43" width="9.00" height="9.00" fill="#b53432"/>
<rect x="91.85" y="281.18" width="7.50" height="7.50" fill="#be4b48"/>
<rect x="120.27" y="341.90" width="9.00" height="9.00" fill="#b53432"/>
<rect x="121.02" y="342.65" width="7.50" height="7.50" fill="#be4b48"/>
<rect x="149.44" y="240.60" width="9.00" height="9.00" fill="#b53432"/>
<rect x="150.19" y="241.35" width="7.50" height="7.50" fill="#be4b48"/>
<rect x="178.61" y="274.25" width="9.00" height="9.00" fill="#b53432"/>
<rect x="179.36" y="275.00" width="7.50" height="7.50" fill="#be4b48"/>
<rect x="207.78" y="293.40" width="9.00" height="9.00" fill="#b53432"/>
<rect x="208.53" y="294.15" width="7.50" height="7.50" fill="#be4b48"/>
<rect x="236.95" y="265.95" width="9.00" height="9.00" fill="#b53432"/>
<rect x="237.70" y="266.70" width="7.50" height="7.50" fill="#be4b48"/>
<rect x="266.12" y="265.75" width="9.00" height="9.00" fill="#b53432"/>
<rect x="266.87" y="266.50" width="7.50" height="7.50" fill="#be4b48"/>
<rect x="295.29" y="257.40" width="9.00" height="9.00" fill="#b53432"/>
<rect x="296.04" y="258.15" width="7.50" height="7.50" fill="#be4b48"/>
<rect x="324.46" y="265.85" width="9.00" height="9.00" fill="#b53432"/>
<rect x="325.21" y="266.60" width="7.50" height="7.50" fill="#be4b48"/>
<rect x="353.63" y="251.23" width="9.00" height="9.00" fill="#b53432"/>
<rect x="354.38" y="251.98" width="7.50" height="7.50" fill="#be4b48"/>
<rect x="382.80" y="236.15" width="9.00" height="9.00" fill="#b53432"/>
<rect x="383.55" y="236.90" width="7.50" height="7.50" fill="#be4b48"/>
<rect x="411.97" y="234.25" width="9.00" height="9.00" fill="#b53432"/>
<rect x="412.72" y="235.00" width="7.50" height="7.50" fill="#be4b48"/>
<rect x="441.14" y="229.75" width="9.00" height="9.00" fill="#b53432"/>
<rect x="441.89" y="230.50" width="7.50" height="7.50" fill="#be4b48"/>
<rect x="470.31" y="215.20" width="9.00" height="9.00" fill="#b53432"/>
<rect x="471.06" y="215.95" width="7.50" height="7.50" fill="#be4b48"/>
<rect x="499.48" y="217.20" width="9.00" height="9.00" fill="#b53432"/>
<rect x="500.23" y="217.95" width="7.50" height="7.50" fill="#be4b48"/>
<rect x="528.65" y="202.75" width="9.00" height="9.00" fill="#b53432"/>
<rect x="529.40" y="203.50" width="7.50" height="7.50" fill="#be4b48"/>
<rect x="557.82" y="206.80" width="9.00" height="9.00" fill="#b53432"/>
<rect x="558.57" y="207.55" width="7.50" height="7.50" fill="#be4b48"/>
<rect x="586.99" y="197.95" width="9.00" height="9.00" fill="#b53432"/>
<rect x="587.74" y="198.70" width="7.50" height="7.50" fill="#be4b48"/>
<rect x="616.16" y="223.90" width="9.00" height="9.00" fill="#b53432"/>
<rect x="616.91" y="224.65" width="7.50" height="7.50" fill="#be4b48"/>
<rect x="645.33" y="198.25" width="9.00" height="9.00" fill="#b53432"/>
<rect x="646.08" y="199.00" width="7.50" height="7.50" fill="#be4b48"/>
<rect x="674.50" y="207.20" width="9.00" height="9.00" fill="#b53432"/>
<rect x="675.25" y="207.95" width="7.50" height="7.50" fill="#be4b48"/>
<rect x="703.67" y="227.75" width="9.00" height="9.00" fill="#b53432"/>
<rect x="704.42" y="228.50" width="7.50" height="7.50" fill="#be4b48"/>
<rect x="732.84" y="261.88" width="9.00" height="9.00" fill="#b53432"/>
<rect x="733.59" y="262.62" width="7.50" height="7.50" fill="#be4b48"/>
<rect x="762.01" y="207.15" width="9.00" height="9.00" fill="#b53432"/>
<rect x="762.76" y="207.90" width="7.50" height="7.50" fill="#be4b48"/>
<rect x="791.18" y="196.52" width="9.00" height="9.00" fill="#b53432"/>
<rect x="791.93" y="197.27" width="7.50" height="7.50" fill="#be4b48"/>
<rect x="820.35" y="189.78" width="9.00" height="9.00" fill="#b53432"/>
<rect x="821.10" y="190.53" width="7.50" height="7.50" fill="#be4b48"/>
<rect x="849.52" y="212.93" width="9.00" height="9.00" fill="#b53432"/>
<rect x="850.27" y="213.68" width="7.50" height="7.50" fill="#be4b48"/>
<rect x="878.69" y="209.12" width="9.00" height="9.00" fill="#b53432"/>
<rect x="879.44" y="209.88" width="7.50" height="7.50" fill="#be4b48"/>
<rect x="907.86" y="202.78" width="9.00" height="9.00" fill="#b53432"/>
<rect x="908.61" y="203.53" width="7.50" height="7.50" fill="#be4b48"/>
<rect x="937.03" y="206.93" width="9.00" height="9.00" fill="#b53432"/>
<rect x="937.78" y="207.68" width="7.50" height="7.50" fill="#be4b48"/>
<path d="M95.60 310.60 C100.46 314.85 115.05 343.50 124.77 336.10 C134.49 328.70 144.22 277.57 153.94 266.20 C163.66 254.83 173.39 263.35 183.11 267.90 C192.83 272.45 202.56 291.70 212.28 293.50 C222.00 295.30 231.73 281.48 241.45 278.70 C251.17 275.92 260.90 277.12 270.62 276.80 C280.34 276.48 290.07 279.97 299.79 276.80 C309.51 273.63 319.24 263.05 328.96 257.80 C338.68 252.55 348.41 246.04 358.13 245.30 C367.85 244.56 377.58 255.52 387.30 253.35 C397.02 251.18 406.75 234.12 416.47 232.30 C426.19 230.48 435.92 243.18 445.64 242.45 C455.36 241.72 465.09 230.72 474.81 227.90 C484.53 225.07 494.26 227.23 503.98 225.50 C513.70 223.77 523.43 220.58 533.15 217.50 C542.87 214.42 552.60 209.43 562.32 207.00 C572.04 204.57 581.77 201.45 591.49 202.90 C601.21 204.35 610.94 216.02 620.66 215.70 C630.38 215.38 640.11 202.76 649.83 200.95 C659.55 199.14 669.28 197.46 679.00 204.85 C688.72 212.24 698.45 237.88 708.17 245.30 C717.89 252.72 727.62 259.32 737.34 249.40 C747.06 239.48 756.79 194.58 766.51 185.80 C776.23 177.03 785.96 198.47 795.68 196.75 C805.40 195.03 815.13 174.79 824.85 175.45 C834.57 176.11 844.30 194.98 854.02 200.70 C863.74 206.42 873.47 208.74 883.19 209.75 C892.91 210.76 902.64 209.30 912.36 206.75 C922.08 204.20 936.67 196.50 941.53 194.45" fill="none" stroke="#86ad36" stroke-width="4.00" stroke-linecap="round" stroke-linejoin="round"/>
<path d="M95.60 310.60 C100.46 314.85 115.05 343.50 124.77 336.10 C134.49 328.70 144.22 277.57 153.94 266.20 C163.66 254.83 173.39 263.35 183.11 267.90 C192.83 272.45 202.56 291.70 212.28 293.50 C222.00 295.30 231.73 281.48 241.45 278.70 C251.17 275.92 260.90 277.12 270.62 276.80 C280.34 276.48 290.07 279.97 299.79 276.80 C309.51 273.63 319.24 263.05 328.96 257.80 C338.68 252.55 348.41 246.04 358.13 245.30 C367.85 244.56 377.58 255.52 387.30 253.35 C397.02 251.18 406.75 234.12 416.47 232.30 C426.19 230.48 435.92 243.18 445.64 242.45 C455.36 241.72 465.09 230.72 474.81 227.90 C484.53 225.07 494.26 227.23 503.98 225.50 C513.70 223.77 523.43 220.58 533.15 217.50 C542.87 214.42 552.60 209.43 562.32 207.00 C572.04 204.57 581.77 201.45 591.49 202.90 C601.21 204.35 610.94 216.02 620.66 215.70 C630.38 215.38 640.11 202.76 649.83 200.95 C659.55 199.14 669.28 197.46 679.00 204.85 C688.72 212.24 698.45 237.88 708.17 245.30 C717.89 252.72 727.62 259.32 737.34 249.40 C747.06 239.48 756.79 194.58 766.51 185.80 C776.23 177.03 785.96 198.47 795.68 196.75 C805.40 195.03 815.13 174.79 824.85 175.45 C834.57 176.11 844.30 194.98 854.02 200.70 C863.74 206.42 873.47 208.74 883.19 209.75 C892.91 210.76 902.64 209.30 912.36 206.75 C922.08 204.20 936.67 196.50 941.53 194.45" fill="none" stroke="#98b954" stroke-width="1.80" stroke-linecap="round" stroke-linejoin="round"/>
<path d="M95.60 305.90 L100.60 315.30 L90.60 315.30Z" fill="#86ad36"/>
<path d="M95.60 307.03 L99.40 314.78 L91.80 314.78Z" fill="#98b954"/>
<path d="M124.77 331.40 L129.77 340.80 L119.77 340.80Z" fill="#86ad36"/>
<path d="M124.77 332.53 L128.57 340.28 L120.97 340.28Z" fill="#98b954"/>
<path d="M153.94 261.50 L158.94 270.90 L148.94 270.90Z" fill="#86ad36"/>
<path d="M153.94 262.62 L157.74 270.38 L150.14 270.38Z" fill="#98b954"/>
<path d="M183.11 263.20 L188.11 272.60 L178.11 272.60Z" fill="#86ad36"/>
<path d="M183.11 264.32 L186.91 272.07 L179.31 272.07Z" fill="#98b954"/>
<path d="M212.28 288.80 L217.28 298.20 L207.28 298.20Z" fill="#86ad36"/>
<path d="M212.28 289.93 L216.08 297.68 L208.48 297.68Z" fill="#98b954"/>
<path d="M241.45 274.00 L246.45 283.40 L236.45 283.40Z" fill="#86ad36"/>
<path d="M241.45 275.12 L245.25 282.88 L237.65 282.88Z" fill="#98b954"/>
<path d="M270.62 272.10 L275.62 281.50 L265.62 281.50Z" fill="#86ad36"/>
<path d="M270.62 273.23 L274.42 280.98 L266.82 280.98Z" fill="#98b954"/>
<path d="M299.79 272.10 L304.79 281.50 L294.79 281.50Z" fill="#86ad36"/>
<path d="M299.79 273.23 L303.59 280.98 L295.99 280.98Z" fill="#98b954"/>
<path d="M328.96 253.10 L333.96 262.50 L323.96 262.50Z" fill="#86ad36"/>
<path d="M328.96 254.23 L332.76 261.98 L325.16 261.98Z" fill="#98b954"/>
<path d="M358.13 240.60 L363.13 250.00 L353.13 250.00Z" fill="#86ad36"/>
<path d="M358.13 241.73 L361.93 249.48 L354.33 249.48Z" fill="#98b954"/>
<path d="M387.30 248.65 L392.30 258.05 L382.30 258.05Z" fill="#86ad36"/>
<path d="M387.30 249.78 L391.10 257.52 L383.50 257.52Z" fill="#98b954"/>
<path d="M416.47 227.60 L421.47 237.00 L411.47 237.00Z" fill="#86ad36"/>
<path d="M416.47 228.73 L420.27 236.48 L412.67 236.48Z" fill="#98b954"/>
<path d="M445.64 237.75 L450.64 247.15 L440.64 247.15Z" fill="#86ad36"/>
<path d="M445.64 238.88 L449.44 246.62 L441.84 246.62Z" fill="#98b954"/>
<path d="M474.81 223.20 L479.81 232.60 L469.81 232.60Z" fill="#86ad36"/>
<path d="M474.81 224.32 L478.61 232.07 L471.01 232.07Z" fill="#98b954"/>
<path d="M503.98 220.80 L508.98 230.20 L498.98 230.20Z" fill="#86ad36"/>
<path d="M503.98 221.93 L507.78 229.68 L500.18 229.68Z" fill="#98b954"/>
<path d="M533.15 212.80 L538.15 222.20 L528.15 222.20Z" fill="#86ad36"/>
<path d="M533.15 213.93 L536.95 221.68 L529.35 221.68Z" fill="#98b954"/>
<path d="M562.32 202.30 L567.32 211.70 L557.32 211.70Z" fill="#86ad36"/>
<path d="M562.32 203.43 L566.12 211.18 L558.52 211.18Z" fill="#98b954"/>
<path d="M591.49 198.20 L596.49 207.60 L586.49 207.60Z" fill="#86ad36"/>
<path d="M591.49 199.32 L595.29 207.07 L587.69 207.07Z" fill="#98b954"/>
<path d="M620.66 211.00 L625.66 220.40 L615.66 220.40Z" fill="#86ad36"/>
<path d="M620.66 212.12 L624.46 219.88 L616.86 219.88Z" fill="#98b954"/>
<path d="M649.83 196.25 L654.83 205.65 L644.83 205.65Z" fill="#86ad36"/>
<path d="M649.83 197.38 L653.63 205.12 L646.03 205.12Z" fill="#98b954"/>
<path d="M679.00 200.15 L684.00 209.55 L674.00 209.55Z" fill="#86ad36"/>
<path d="M679.00 201.28 L682.80 209.03 L675.20 209.03Z" fill="#98b954"/>
<path d="M708.17 240.60 L713.17 250.00 L703.17 250.00Z" fill="#86ad36"/>
<path d="M708.17 241.72 L711.97 249.47 L704.37 249.47Z" fill="#98b954"/>
<path d="M737.34 244.70 L742.34 254.10 L732.34 254.10Z" fill="#86ad36"/>
<path d="M737.34 245.82 L741.14 253.57 L733.54 253.57Z" fill="#98b954"/>
<path d="M766.51 181.10 L771.51 190.50 L761.51 190.50Z" fill="#86ad36"/>
<path d="M766.51 182.23 L770.31 189.98 L762.71 189.98Z" fill="#98b954"/>
<path d="M795.68 192.05 L800.68 201.45 L790.68 201.45Z" fill="#86ad36"/>
<path d="M795.68 193.18 L799.48 200.93 L791.88 200.93Z" fill="#98b954"/>
<path d="M824.85 170.75 L829.85 180.15 L819.85 180.15Z" fill="#86ad36"/>
<path d="M824.85 171.88 L828.65 179.62 L821.05 179.62Z" fill="#98b954"/>
<path d="M854.02 196.00 L859.02 205.40 L849.02 205.40Z" fill="#86ad36"/>
<path d="M854.02 197.12 L857.82 204.88 L850.22 204.88Z" fill="#98b954"/>
<path d="M883.19 205.05 L888.19 214.45 L878.19 214.45Z" fill="#86ad36"/>
<path d="M883.19 206.18 L886.99 213.93 L879.39 213.93Z" fill="#98b954"/>
<path d="M912.36 202.05 L917.36 211.45 L907.36 211.45Z" fill="#86ad36"/>
<path d="M912.36 203.18 L916.16 210.93 L908.56 210.93Z" fill="#98b954"/>
<path d="M941.53 189.75 L946.53 199.15 L936.53 199.15Z" fill="#86ad36"/>
<path d="M941.53 190.88 L945.33 198.62 L937.73 198.62Z" fill="#98b954"/>
<g fill="#000">
<rect x="67" y="29.5" width="4" height="439.3"/>
<rect x="57" y="63.65" width="11" height="3.9"/>
<rect x="57" y="144.05" width="11" height="3.9"/>
<rect x="57" y="224.15" width="11" height="3.9"/>
<rect x="57" y="304.45" width="11" height="3.9"/>
<rect x="57" y="384.95" width="11" height="3.9"/>
<rect x="57" y="465" width="11" height="3.8"/>
<rect x="93.1" y="465.2" width="883.2" height="4.4"/>
<rect x="92.90" y="466" width="3.8" height="11"/>
<rect x="209.72" y="466" width="3.8" height="11"/>
<rect x="326.54" y="466" width="3.8" height="11"/>
<rect x="443.36" y="466" width="3.8" height="11"/>
<rect x="560.18" y="466" width="3.8" height="11"/>
<rect x="677.00" y="466" width="3.8" height="11"/>
<rect x="793.82" y="466" width="3.8" height="11"/>
<rect x="910.64" y="466" width="3.8" height="11"/>
<rect x="67" y="541.3" width="4" height="224"/>
<rect x="58.8" y="541.25" width="9" height="4"/>
<rect x="58.8" y="579.75" width="9" height="4"/>
<rect x="58.8" y="617.50" width="9" height="4"/>
<rect x="58.8" y="656.00" width="9" height="4"/>
<rect x="58.8" y="693.90" width="9" height="4"/>
<rect x="58.8" y="732.00" width="9" height="4"/>
</g>
<path d="M94.50 633.40 L124.25 558.40 L153.00 577.15 L182.50 560.90 L211.50 553.65 L240.75 576.15 L270.00 568.65 L299.25 575.40 L329.00 560.65 L358.00 584.15 L387.00 561.65 L416.25 569.40 L445.75 557.40 L475.50 589.90 L504.50 549.15 L533.50 573.65 L562.75 549.65 L592.25 556.15 L621.25 595.40 L650.50 551.40 L680.00 550.40 L709.00 653.90 L738.25 695.40 L767.10 558.65 L796.75 550.40 L826.00 574.90 L855.25 569.90 L884.50 555.40 L913.75 564.90 L943.00 595.40" fill="none" stroke="#000" stroke-width="4.0" stroke-linejoin="round"/>
<path d="M94.50 628.60 L99.30 633.40 L94.50 638.20 L89.70 633.40Z" fill="#000"/>
<path d="M124.25 553.60 L129.05 558.40 L124.25 563.20 L119.45 558.40Z" fill="#000"/>
<path d="M153.00 572.35 L157.80 577.15 L153.00 581.95 L148.20 577.15Z" fill="#000"/>
<path d="M182.50 556.10 L187.30 560.90 L182.50 565.70 L177.70 560.90Z" fill="#000"/>
<path d="M211.50 548.85 L216.30 553.65 L211.50 558.45 L206.70 553.65Z" fill="#000"/>
<path d="M240.75 571.35 L245.55 576.15 L240.75 580.95 L235.95 576.15Z" fill="#000"/>
<path d="M270.00 563.85 L274.80 568.65 L270.00 573.45 L265.20 568.65Z" fill="#000"/>
<path d="M299.25 570.60 L304.05 575.40 L299.25 580.20 L294.45 575.40Z" fill="#000"/>
<path d="M329.00 555.85 L333.80 560.65 L329.00 565.45 L324.20 560.65Z" fill="#000"/>
<path d="M358.00 579.35 L362.80 584.15 L358.00 588.95 L353.20 584.15Z" fill="#000"/>
<path d="M387.00 556.85 L391.80 561.65 L387.00 566.45 L382.20 561.65Z" fill="#000"/>
<path d="M416.25 564.60 L421.05 569.40 L416.25 574.20 L411.45 569.40Z" fill="#000"/>
<path d="M445.75 552.60 L450.55 557.40 L445.75 562.20 L440.95 557.40Z" fill="#000"/>
<path d="M475.50 585.10 L480.30 589.90 L475.50 594.70 L470.70 589.90Z" fill="#000"/>
<path d="M504.50 544.35 L509.30 549.15 L504.50 553.95 L499.70 549.15Z" fill="#000"/>
<path d="M533.50 568.85 L538.30 573.65 L533.50 578.45 L528.70 573.65Z" fill="#000"/>
<path d="M562.75 544.85 L567.55 549.65 L562.75 554.45 L557.95 549.65Z" fill="#000"/>
<path d="M592.25 551.35 L597.05 556.15 L592.25 560.95 L587.45 556.15Z" fill="#000"/>
<path d="M621.25 590.60 L626.05 595.40 L621.25 600.20 L616.45 595.40Z" fill="#000"/>
<path d="M650.50 546.60 L655.30 551.40 L650.50 556.20 L645.70 551.40Z" fill="#000"/>
<path d="M680.00 545.60 L684.80 550.40 L680.00 555.20 L675.20 550.40Z" fill="#000"/>
<path d="M709.00 649.10 L713.80 653.90 L709.00 658.70 L704.20 653.90Z" fill="#000"/>
<path d="M738.25 690.60 L743.05 695.40 L738.25 700.20 L733.45 695.40Z" fill="#000"/>
<path d="M767.10 553.85 L771.90 558.65 L767.10 563.45 L762.30 558.65Z" fill="#000"/>
<path d="M796.75 545.60 L801.55 550.40 L796.75 555.20 L791.95 550.40Z" fill="#000"/>
<path d="M826.00 570.10 L830.80 574.90 L826.00 579.70 L821.20 574.90Z" fill="#000"/>
<path d="M855.25 565.10 L860.05 569.90 L855.25 574.70 L850.45 569.90Z" fill="#000"/>
<path d="M884.50 550.60 L889.30 555.40 L884.50 560.20 L879.70 555.40Z" fill="#000"/>
<path d="M913.75 560.10 L918.55 564.90 L913.75 569.70 L908.95 564.90Z" fill="#000"/>
<path d="M943.00 590.60 L947.80 595.40 L943.00 600.20 L938.20 595.40Z" fill="#000"/>
<rect x="71" y="592.85" width="906" height="2.05" fill="#e23303"/>
<path d="M679.4 303.7 L689.1 329.8 Q679.5 334.2 669.9 329.8 Z" fill="#000"/>
<rect x="677.4" y="328" width="4.1" height="22.7" fill="#000"/>
<rect x="293.60" y="428.8" width="52.20" height="7.5" fill="#3468b3"/>
<rect x="294.35" y="429.55" width="50.70" height="6.00" fill="#4a7ebb"/>
<rect x="449.50" y="428.8" width="52.50" height="7.5" fill="#b53432"/>
<rect x="450.25" y="429.55" width="51.00" height="6.00" fill="#be4b48"/>
<rect x="698.80" y="428.8" width="52.50" height="7.5" fill="#86ad36"/>
<rect x="699.55" y="429.55" width="51.00" height="6.00" fill="#98b954"/>
<g font-family="'Liberation Sans', sans-serif" fill="#000" stroke="#000" stroke-width="0.30" style="opacity:0.999">
<text transform="translate(0.50 19.00) scale(1.0400 1)" font-size="23.00" text-anchor="start">(ms)</text>
<g transform="translate(48.30 73.60) scale(1.0500 1)" font-size="23.00"><text x="-44.76" y="0">23.6</text></g>
<g transform="translate(48.30 152.20) scale(1.0500 1)" font-size="23.00"><text x="-44.76" y="0">23.2</text></g>
<g transform="translate(49.00 234.20) scale(1.0500 1)" font-size="23.00"><text x="-44.76" y="0">22.8</text></g>
<g transform="translate(48.80 314.60) scale(1.0500 1)" font-size="23.00"><text x="-44.76" y="0">22.4</text></g>
<g transform="translate(46.00 394.60) scale(1.0500 1)" font-size="23.00"><text x="-25.58" y="0">22</text></g>
<g transform="translate(48.30 473.90) scale(1.0500 1)" font-size="23.00"><text x="-44.76" y="0">2</text><path transform="translate(-31.97 0) scale(0.01123 -0.01123)" d="M763 0H583V1147Q518 1085 412.5 1023Q307 961 223 930V1104Q374 1175 487 1276Q600 1377 647 1472H763Z" stroke-width="26.7"/><text x="-19.18" y="0">.6</text></g>
<g transform="translate(95.10 503.00) scale(1.0100 1)" font-size="23.20"><text x="-6.45" y="0">0</text></g>
<g transform="translate(211.92 503.00) scale(1.0100 1)" font-size="23.20"><text x="-19.35" y="0">200</text></g>
<g transform="translate(328.74 503.00) scale(1.0100 1)" font-size="23.20"><text x="-19.35" y="0">400</text></g>
<g transform="translate(445.56 503.00) scale(1.0100 1)" font-size="23.20"><text x="-19.35" y="0">600</text></g>
<g transform="translate(562.38 503.00) scale(1.0100 1)" font-size="23.20"><text x="-19.35" y="0">800</text></g>
<g transform="translate(678.30 503.00) scale(1.0100 1)" font-size="23.20"><path transform="translate(-25.81 0) scale(0.01133 -0.01133)" d="M763 0H583V1147Q518 1085 412.5 1023Q307 961 223 930V1104Q374 1175 487 1276Q600 1377 647 1472H763Z" stroke-width="26.5"/><text x="-12.90" y="0">000</text></g>
<g transform="translate(795.12 503.00) scale(1.0100 1)" font-size="23.20"><path transform="translate(-25.81 0) scale(0.01133 -0.01133)" d="M763 0H583V1147Q518 1085 412.5 1023Q307 961 223 930V1104Q374 1175 487 1276Q600 1377 647 1472H763Z" stroke-width="26.5"/><text x="-12.90" y="0">200</text></g>
<g transform="translate(911.94 503.00) scale(1.0100 1)" font-size="23.20"><path transform="translate(-25.81 0) scale(0.01133 -0.01133)" d="M763 0H583V1147Q518 1085 412.5 1023Q307 961 223 930V1104Q374 1175 487 1276Q600 1377 647 1472H763Z" stroke-width="26.5"/><text x="-12.90" y="0">400</text></g>
<text transform="translate(952.20 503.40) scale(1.0400 1)" font-size="22.60" text-anchor="start">(ms)</text>
<g transform="translate(46.00 551.10) scale(1.0400 1)" font-size="23.00"><path transform="translate(-12.79 0) scale(0.01123 -0.01123)" d="M763 0H583V1147Q518 1085 412.5 1023Q307 961 223 930V1104Q374 1175 487 1276Q600 1377 647 1472H763Z" stroke-width="26.7"/></g>
<g transform="translate(41.90 590.90) scale(1.0400 1)" font-size="23.00"><path transform="translate(-25.58 0) scale(0.01123 -0.01123)" d="M763 0H583V1147Q518 1085 412.5 1023Q307 961 223 930V1104Q374 1175 487 1276Q600 1377 647 1472H763Z" stroke-width="26.7"/><text x="-12.79" y="0">0</text></g>
<g transform="translate(42.00 583.00) scale(1.0000 1)" font-size="16.50"><text x="0.00" y="0">-</text><path transform="translate(5.49 0) scale(0.00806 -0.00806)" d="M763 0H583V1147Q518 1085 412.5 1023Q307 961 223 930V1104Q374 1175 487 1276Q600 1377 647 1472H763Z" stroke-width="37.2"/></g>
<g transform="translate(41.10 628.90) scale(1.0400 1)" font-size="23.00"><path transform="translate(-25.58 0) scale(0.01123 -0.01123)" d="M763 0H583V1147Q518 1085 412.5 1023Q307 961 223 930V1104Q374 1175 487 1276Q600 1377 647 1472H763Z" stroke-width="26.7"/><text x="-12.79" y="0">0</text></g>
<g transform="translate(42.00 621.30) scale(0.9500 1)" font-size="16.50"><text x="0.00" y="0">-2</text></g>
<g transform="translate(41.10 666.80) scale(1.0400 1)" font-size="23.00"><path transform="translate(-25.58 0) scale(0.01123 -0.01123)" d="M763 0H583V1147Q518 1085 412.5 1023Q307 961 223 930V1104Q374 1175 487 1276Q600 1377 647 1472H763Z" stroke-width="26.7"/><text x="-12.79" y="0">0</text></g>
<g transform="translate(42.00 659.20) scale(0.9500 1)" font-size="16.50"><text x="0.00" y="0">-3</text></g>
<g transform="translate(41.10 704.10) scale(1.0400 1)" font-size="23.00"><path transform="translate(-25.58 0) scale(0.01123 -0.01123)" d="M763 0H583V1147Q518 1085 412.5 1023Q307 961 223 930V1104Q374 1175 487 1276Q600 1377 647 1472H763Z" stroke-width="26.7"/><text x="-12.79" y="0">0</text></g>
<g transform="translate(42.00 696.30) scale(0.9500 1)" font-size="16.50"><text x="0.00" y="0">-4</text></g>
<g transform="translate(41.10 744.10) scale(1.0400 1)" font-size="23.00"><path transform="translate(-25.58 0) scale(0.01123 -0.01123)" d="M763 0H583V1147Q518 1085 412.5 1023Q307 961 223 930V1104Q374 1175 487 1276Q600 1377 647 1472H763Z" stroke-width="26.7"/><text x="-12.79" y="0">0</text></g>
<g transform="translate(42.00 736.50) scale(0.9500 1)" font-size="16.50"><text x="0.00" y="0">-5</text></g>
<text x="378.60" y="60.80" font-size="34.30" text-anchor="start" textLength="213.6" lengthAdjust="spacingAndGlyphs">N20m latency</text>
<text x="429.30" y="705.40" font-size="36.10" text-anchor="start" textLength="120.5" lengthAdjust="spacingAndGlyphs">ANOVA</text>
<text transform="translate(357.00 437.60) scale(0.9900 1)" font-size="23.70" text-anchor="start">Control</text>
<text transform="translate(512.20 437.60) scale(0.9840 1)" font-size="23.70" text-anchor="start">Ipsilateral sound</text>
<text transform="translate(761.80 437.60) scale(0.9900 1)" font-size="23.70" text-anchor="start">Contralateral sound</text>
<text transform="translate(679.60 376.30) scale(0.9900 1)" font-size="23.70" text-anchor="middle">Sound</text>
<text transform="translate(842.80 623.00) scale(1.0400 1)" font-size="18.60" text-anchor="start">p=0.05</text>
</g>
</svg></body></html>
